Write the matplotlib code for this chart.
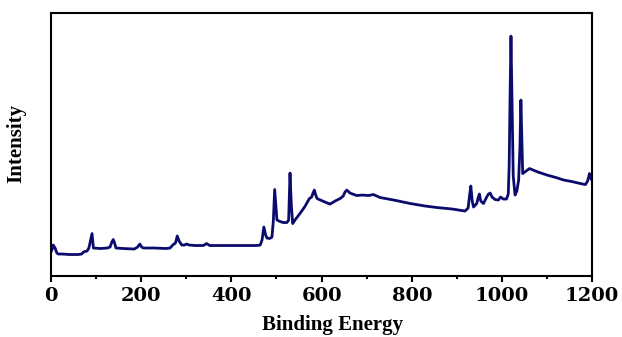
"""
XPS survey spectrum: intensity vs. binding energy.
"""
import matplotlib

matplotlib.use("Agg")
import matplotlib.pyplot as plt
from matplotlib.ticker import MultipleLocator

# binding energy [eV] and intensity [a.u.]
energy = [
    0, 2, 5, 9, 13, 16, 25, 40, 60, 68, 72, 80, 84, 88, 91, 94, 110, 125, 131,
    135, 138, 141, 144, 160, 185, 192, 197, 201, 205, 230, 255, 264, 270, 276,
    280, 284, 290, 296, 301, 306, 320, 338, 345, 352, 380, 420, 455, 464, 468,
    472, 476, 479, 485, 490, 493, 496, 499, 501, 508, 515, 523, 527, 530, 533,
    536, 541, 552, 563, 573, 578, 581, 584, 587, 590, 600, 610, 619, 630, 641,
    648, 652, 656, 663, 678, 690, 704, 715, 730, 760, 797, 830, 856, 890, 918,
    925, 928, 931, 934, 937, 944, 947, 950, 953, 959, 965, 970, 974, 978, 985,
    992, 997, 1003, 1010, 1014, 1016, 1018, 1020, 1022, 1025, 1029, 1033, 1037,
    1040, 1042, 1044, 1046, 1052, 1061, 1080, 1100, 1120, 1137, 1155, 1174,
    1185, 1190, 1194, 1198,
]
intensity = [
    24, 26, 31, 28, 23, 22, 22, 21.5, 21.5, 22, 24, 25, 28, 36, 42.5, 28, 27.5,
    28, 29, 34, 36.5, 33, 28, 27.5, 27, 29, 32, 29, 28, 28, 27.5, 28, 31, 33,
    40, 35, 31, 31, 32, 31, 30.5, 30.5, 32.5, 30.5, 30.5, 30.5, 30.5, 31, 36,
    49, 41, 38, 37.5, 39, 55, 86.5, 68, 56, 54.5, 53.5, 53.5, 56, 103, 70, 52.5,
    56, 62.5, 69.5, 77.5, 79, 83, 86, 81, 77.5, 75.5, 73.5, 72, 75, 77.5, 80, 84,
    86, 83, 80.5, 81, 80.5, 81.5, 78.5, 76, 72.5, 70, 68.5, 67, 65, 68, 80, 90,
    75, 69, 72.5, 78, 82, 75, 72.5, 78, 82, 83, 79, 76.5, 76, 79, 77, 77, 82,
    110, 180, 240, 185, 100, 81, 85, 96, 130, 176, 140, 102.5, 104.5, 107.5,
    104, 101, 98.5, 96, 94.5, 92.5, 91.5, 95, 102.5, 97,
]

major_ticks = [0, 200, 400, 600, 800, 1000, 1200]
tick_labels = ["0", "200", "400", "600", "800", "1000", "1200"]

line_color = "#0b0b6e"
label_font = {"family": "Liberation Serif", "weight": "bold", "size": 15}

fig = plt.figure(figsize=(6.22, 3.37), dpi=100)
ax = fig.add_axes([0.082, 0.181, 0.870, 0.780])

ax.plot(energy, intensity, color=line_color, linewidth=2.0, solid_joinstyle="round")

ax.set_xlim(0, 1200)
ax.set_ylim(0, 263)

ax.set_xticks(major_ticks)
ax.set_xticklabels(tick_labels, fontfamily="DejaVu Serif", fontweight="bold", fontsize=14)
ax.xaxis.set_minor_locator(MultipleLocator(100))
ax.tick_params(axis="x", which="major", direction="out", length=4, width=1.5, pad=4)
ax.tick_params(axis="x", which="minor", direction="out", length=2, width=1.5)
ax.set_yticks([])

for spine in ax.spines.values():
    spine.set_linewidth(1.5)
    spine.set_color("black")

ax.set_xlabel("Binding Energy", fontdict=label_font, va="top")
ax.xaxis.set_label_coords(0.521, -0.148)
ax.set_ylabel("Intensity", fontdict=label_font)
ax.yaxis.set_label_coords(-0.045, 0.506)

fig.savefig("out.png", dpi=100)
